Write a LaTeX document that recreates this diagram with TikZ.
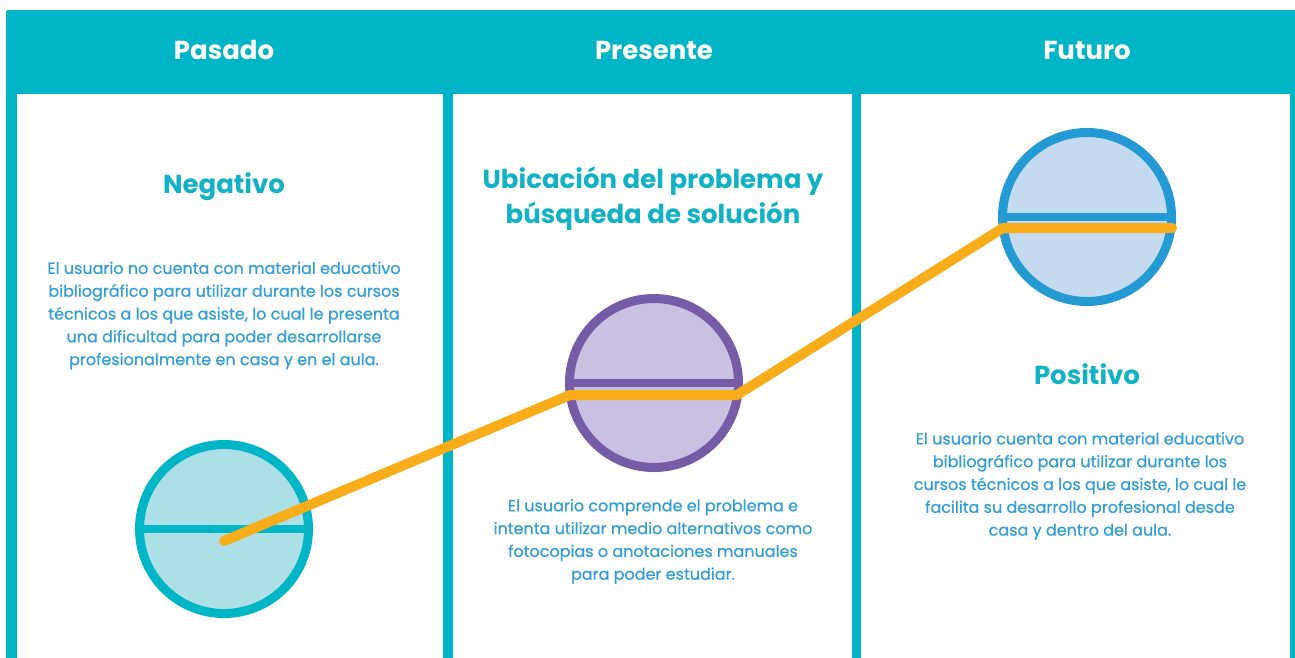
\documentclass[tikz,border=0pt]{standalone}
\usepackage{fontspec}
\setmainfont{Poppins}
\newfontfamily\blurbfont[FakeBold=0.6]{Poppins}
\definecolor{tealband}{RGB}{0,181,198}
\definecolor{titleteal}{RGB}{18,178,198}
\definecolor{bodyblue}{RGB}{48,158,216}
\definecolor{tealfill}{RGB}{173,223,230}
\definecolor{purpleline}{RGB}{118,92,166}
\definecolor{lilacfill}{RGB}{201,192,226}
\definecolor{skyline}{RGB}{36,154,213}
\definecolor{skyfill}{RGB}{196,218,240}
\definecolor{trendorange}{RGB}{249,173,26}
\usetikzlibrary{calc}

\tikzset{
  phase/.style={font=\fontsize{26}{30}\selectfont\bfseries, text=white},
  heading/.style={font=\fontsize{26}{35}\selectfont\bfseries, text=titleteal, align=center},
  blurb/.style={font=\blurbfont\fontsize{16}{22.8}\selectfont, text=bodyblue, align=center},
  pill/.style={circle, line width=9pt, minimum size=169pt, inner sep=0pt},
}

\begin{document}
\begin{tikzpicture}[x=1pt, y=-1pt]
    \useasboundingbox (0,0) rectangle (1295,657);
    % frame and columns
    \fill[tealband, rounded corners=2pt] (6,10) rectangle (1310,670);
    \fill[white] (17,94) rectangle (443,670);
    \fill[white] (453,94) rectangle (852,670);
    \fill[white] (861,94) rectangle (1290,670);

    \node[phase] (pasado) at (224,50) {Pasado};
    \node[phase] (presente) at (654,50) {Presente};
    \node[phase] (futuro) at (1087,50) {Futuro};

    % Pasado
    \node[heading] (negativo) at (224,187) {Negativo};
    \node[blurb] (pasadoTxt) at (224,315.5) {El usuario no cuenta con material educativo\\
        bibliográfico para utilizar durante los cursos\\
        técnicos a los que asiste, lo cual le presenta\\
        una dificultad para poder desarrollarse\\
        profesionalmente en casa y en el aula.};
    \node[pill, draw=tealband, fill=tealfill] (pasadoC) at (224,529) {};
    \draw[tealband, line width=8pt] (pasadoC.west) -- (pasadoC.east);

    % Presente
    \node[heading] (ubicacion) at (653,198.5) {Ubicación del problema y\\búsqueda de solución};
    \node[pill, draw=purpleline, fill=lilacfill] (presenteC) at (654,383) {};
    \draw[purpleline, line width=8pt] (presenteC.west) -- (presenteC.east);
    \node[blurb] (presenteTxt) at (653,541.5) {El usuario comprende el problema e\\
        intenta utilizar medio alternativos como\\
        fotocopias o anotaciones manuales\\
        para poder estudiar.};

    % Futuro
    \node[pill, draw=skyline, fill=skyfill] (futuroC) at (1087,217) {};
    \draw[skyline, line width=8pt] (futuroC.west) -- (futuroC.east);
    \node[heading] (positivo) at (1087,374) {Positivo};
    \node[blurb] (futuroTxt) at (1080,486) {El usuario cuenta con material educativo\\
        bibliográfico para utilizar durante los\\
        cursos técnicos a los que asiste, lo cual le\\
        facilita su desarrollo profesional desde\\
        casa y dentro del aula.};

    % trend line
    \coordinate (t0) at ($(pasadoC.center)+(0,12)$);
    \coordinate (t1) at ($(presenteC.center)+(-84,12)$);
    \coordinate (t2) at ($(presenteC.center)+(83,12)$);
    \coordinate (t3) at ($(futuroC.center)+(-84,11)$);
    \coordinate (t4) at ($(futuroC.center)+(85,11)$);
    \draw[trendorange, line width=10pt, line cap=round, line join=round]
        (t0) -- (t1) -- (t2) -- (t3) -- (t4);
\end{tikzpicture}
\end{document}
